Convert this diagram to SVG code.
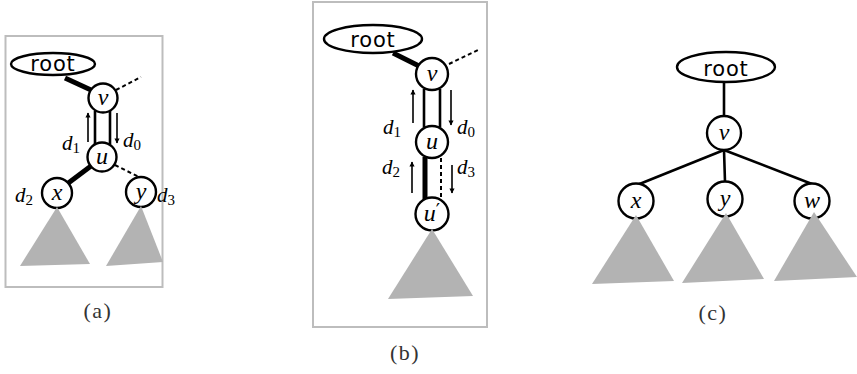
<svg xmlns="http://www.w3.org/2000/svg" width="857" height="374" viewBox="0 0 857 374">
  <style>
    .frame { fill: none; stroke: #bdbdbd; stroke-width: 2; }
    .node { fill: #fff; stroke: #000; stroke-width: 2.4; }
    .tree { fill: #b3b3b3; stroke: none; }
    .thick { stroke: #000; stroke-width: 5; fill: none; }
    .edge { stroke: #000; stroke-width: 2.6; fill: none; }
    .dash { stroke: #000; stroke-width: 2; stroke-dasharray: 4 3; fill: none; }
    .dir { stroke: #000; stroke-width: 1.6; fill: none; marker-end: url(#head); }
    .rt { font-family: 'DejaVu Sans', sans-serif; font-size: 21px; letter-spacing: 0.8px; text-anchor: middle; }
    .var { font-family: 'Liberation Serif', serif; font-style: italic; font-size: 24px; text-anchor: middle; }
    .lab { font-family: 'Liberation Serif', serif; font-style: italic; font-size: 21px; }
    .sub { font-style: normal; font-size: 15px; }
    .prime { font-family: 'DejaVu Sans', sans-serif; font-style: normal; font-size: 19px; }
    .cap { font-family: 'Liberation Serif', serif; font-size: 22px; letter-spacing: 1.5px; text-anchor: middle; fill: #333; }
  </style>
  <defs>
    <marker id="head" viewBox="0 0 10 10" refX="9" refY="5" markerWidth="3.2" markerHeight="3.6" orient="auto" markerUnits="strokeWidth">
      <path d="M0,0 L10,5 L0,10 z" fill="#000"/>
    </marker>
  </defs>

  <!-- panel frames -->
  <rect class="frame" x="5.5" y="36" width="157" height="251"/>
  <rect class="frame" x="313" y="2" width="174" height="325"/>

  <!-- edges and direction arrows -->
  <g id="connectors">
    <!-- (a) -->
    <line class="thick" x1="65" y1="78" x2="91" y2="90"/>
    <line class="dash" x1="116" y1="90" x2="141" y2="77"/>
    <line class="edge" x1="95" y1="111" x2="95" y2="144"/>
    <line class="edge" x1="110" y1="111" x2="110" y2="144"/>
    <line class="dir" x1="88" y1="142" x2="88" y2="113"/>
    <line class="dir" x1="117" y1="113" x2="117" y2="143"/>
    <line class="thick" x1="91" y1="166" x2="67" y2="184"/>
    <line class="dash" x1="115" y1="165" x2="139" y2="177"/>
    <!-- (b) -->
    <line class="thick" x1="393" y1="53" x2="419" y2="66"/>
    <line class="dash" x1="449" y1="64" x2="478" y2="50"/>
    <line class="edge" x1="424" y1="89" x2="424" y2="127"/>
    <line class="edge" x1="440" y1="89" x2="440" y2="127"/>
    <line class="dir" x1="413" y1="123" x2="413" y2="90"/>
    <line class="dir" x1="451" y1="90" x2="451" y2="125"/>
    <line class="thick" x1="425" y1="157" x2="425" y2="199"/>
    <line class="dash" x1="441" y1="158" x2="441" y2="198"/>
    <line class="dir" x1="412" y1="193" x2="412" y2="162"/>
    <line class="dir" x1="452" y1="165" x2="452" y2="193"/>
    <!-- (c) -->
    <line class="edge" x1="724" y1="82" x2="724" y2="116"/>
    <line class="edge" x1="724" y1="150" x2="637" y2="185"/>
    <line class="edge" x1="724" y1="150" x2="725" y2="182"/>
    <line class="edge" x1="724" y1="150" x2="812" y2="184"/>
  </g>

  <!-- (a) nodes -->
  <g id="a-root"><ellipse class="node" cx="53" cy="64" rx="42" ry="11"/><text class="rt" x="53" y="71">root</text></g>
  <g id="a-v"><circle class="node" cx="103" cy="98" r="14.5"/><text class="var" x="103" y="105">v</text></g>
  <g id="a-u"><circle class="node" cx="102" cy="157" r="14.5"/><text class="var" x="102" y="164">u</text></g>
  <g id="a-x"><circle class="node" cx="57" cy="193" r="15"/><text class="var" x="57" y="200">x</text></g>
  <g id="a-y"><circle class="node" cx="141" cy="192" r="15"/><text class="var" x="141" y="199">y</text></g>
  <polygon class="tree" points="57,207 20,266 90,264"/>
  <polygon class="tree" points="141,206 106,266 163,262"/>
  <text class="lab" x="62" y="150">d<tspan class="sub" dy="3">1</tspan></text>
  <text class="lab" x="123" y="147">d<tspan class="sub" dy="3">0</tspan></text>
  <text class="lab" x="15" y="202">d<tspan class="sub" dy="3">2</tspan></text>
  <text class="lab" x="157" y="202">d<tspan class="sub" dy="3">3</tspan></text>
  <text class="cap" x="98" y="318">(a)</text>

  <!-- (b) nodes -->
  <g id="b-root"><ellipse class="node" cx="373" cy="39" rx="49" ry="14"/><text class="rt" x="373" y="47">root</text></g>
  <g id="b-v"><circle class="node" cx="432" cy="74" r="16"/><text class="var" x="432" y="81">v</text></g>
  <g id="b-u"><circle class="node" cx="432" cy="142" r="16"/><text class="var" x="432" y="149">u</text></g>
  <g id="b-u2"><circle class="node" cx="432" cy="214" r="16.5"/><text class="var" x="432" y="221">u<tspan class="prime" dy="-4">′</tspan></text></g>
  <polygon class="tree" points="432,229 388,299 473,296"/>
  <text class="lab" x="383" y="134">d<tspan class="sub" dy="3">1</tspan></text>
  <text class="lab" x="457" y="134">d<tspan class="sub" dy="3">0</tspan></text>
  <text class="lab" x="382" y="174">d<tspan class="sub" dy="3">2</tspan></text>
  <text class="lab" x="457" y="174">d<tspan class="sub" dy="3">3</tspan></text>
  <text class="cap" x="405" y="360">(b)</text>

  <!-- (c) nodes -->
  <g id="c-root"><ellipse class="node" cx="726" cy="67" rx="49" ry="15"/><text class="rt" x="726" y="76">root</text></g>
  <g id="c-v"><circle class="node" cx="724" cy="133" r="17"/><text class="var" x="724" y="140">v</text></g>
  <g id="c-x"><circle class="node" cx="636" cy="201" r="17.5"/><text class="var" x="636" y="208">x</text></g>
  <g id="c-y"><circle class="node" cx="725" cy="199" r="17.5"/><text class="var" x="725" y="206">y</text></g>
  <g id="c-w"><circle class="node" cx="812" cy="201" r="17.5"/><text class="var" x="812" y="208">w</text></g>
  <polygon class="tree" points="636,215 592,284 674,281"/>
  <polygon class="tree" points="726,213 682,283 764,279"/>
  <polygon class="tree" points="814,212 774,281 857,277"/>
  <text class="cap" x="713" y="320">(c)</text>
</svg>
